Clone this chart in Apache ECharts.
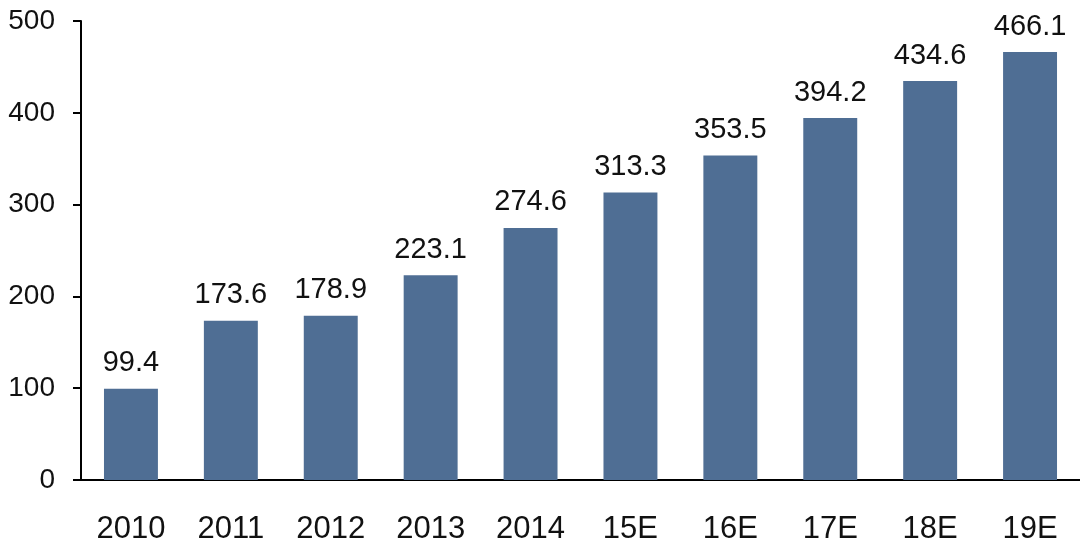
<!DOCTYPE html>
<html><head><meta charset="utf-8">
<script src="https://cdn.jsdelivr.net/npm/echarts@6/dist/echarts.min.js"></script>
<style>html,body{margin:0;padding:0;background:#fff}#c{width:1080px;height:548px}</style>
</head><body><div id="c"></div>
<script>
const categories = ['2010','2011','2012','2013','2014','15E','16E','17E','18E','19E'];
const values = [99.4,173.6,178.9,223.1,274.6,313.3,353.5,394.2,434.6,466.1];
const yTicks = [0,100,200,300,400,500];

const chart = echarts.init(document.getElementById('c'));
chart.setOption({
  animation:false,
  grid:{left:81,right:0,top:21,bottom:68,containLabel:false},
  xAxis:{type:'category',data:categories,
    axisLine:{lineStyle:{color:'#000',width:2}},
    axisTick:{show:false},
    axisLabel:{color:'#111',fontSize:31,fontFamily:'Liberation Sans, Arial',margin:34}},
  yAxis:{type:'value',min:yTicks[0],max:yTicks[yTicks.length-1],interval:100,
    splitLine:{show:false},
    axisLine:{show:true,lineStyle:{color:'#000',width:2}},
    axisTick:{show:true,length:8,lineStyle:{color:'#000',width:2}},
    axisLabel:{color:'#111',fontSize:28,fontFamily:'Liberation Sans, Arial',margin:26}},
  series:[{type:'bar',data:values,barWidth:'54%',
    itemStyle:{color:'#4F6E94'},
    label:{show:true,position:'top',distance:11,color:'#111',fontSize:29,fontFamily:'Liberation Sans, Arial',
      formatter:p=>p.value.toFixed(1)}}]
});
</script></body></html>
